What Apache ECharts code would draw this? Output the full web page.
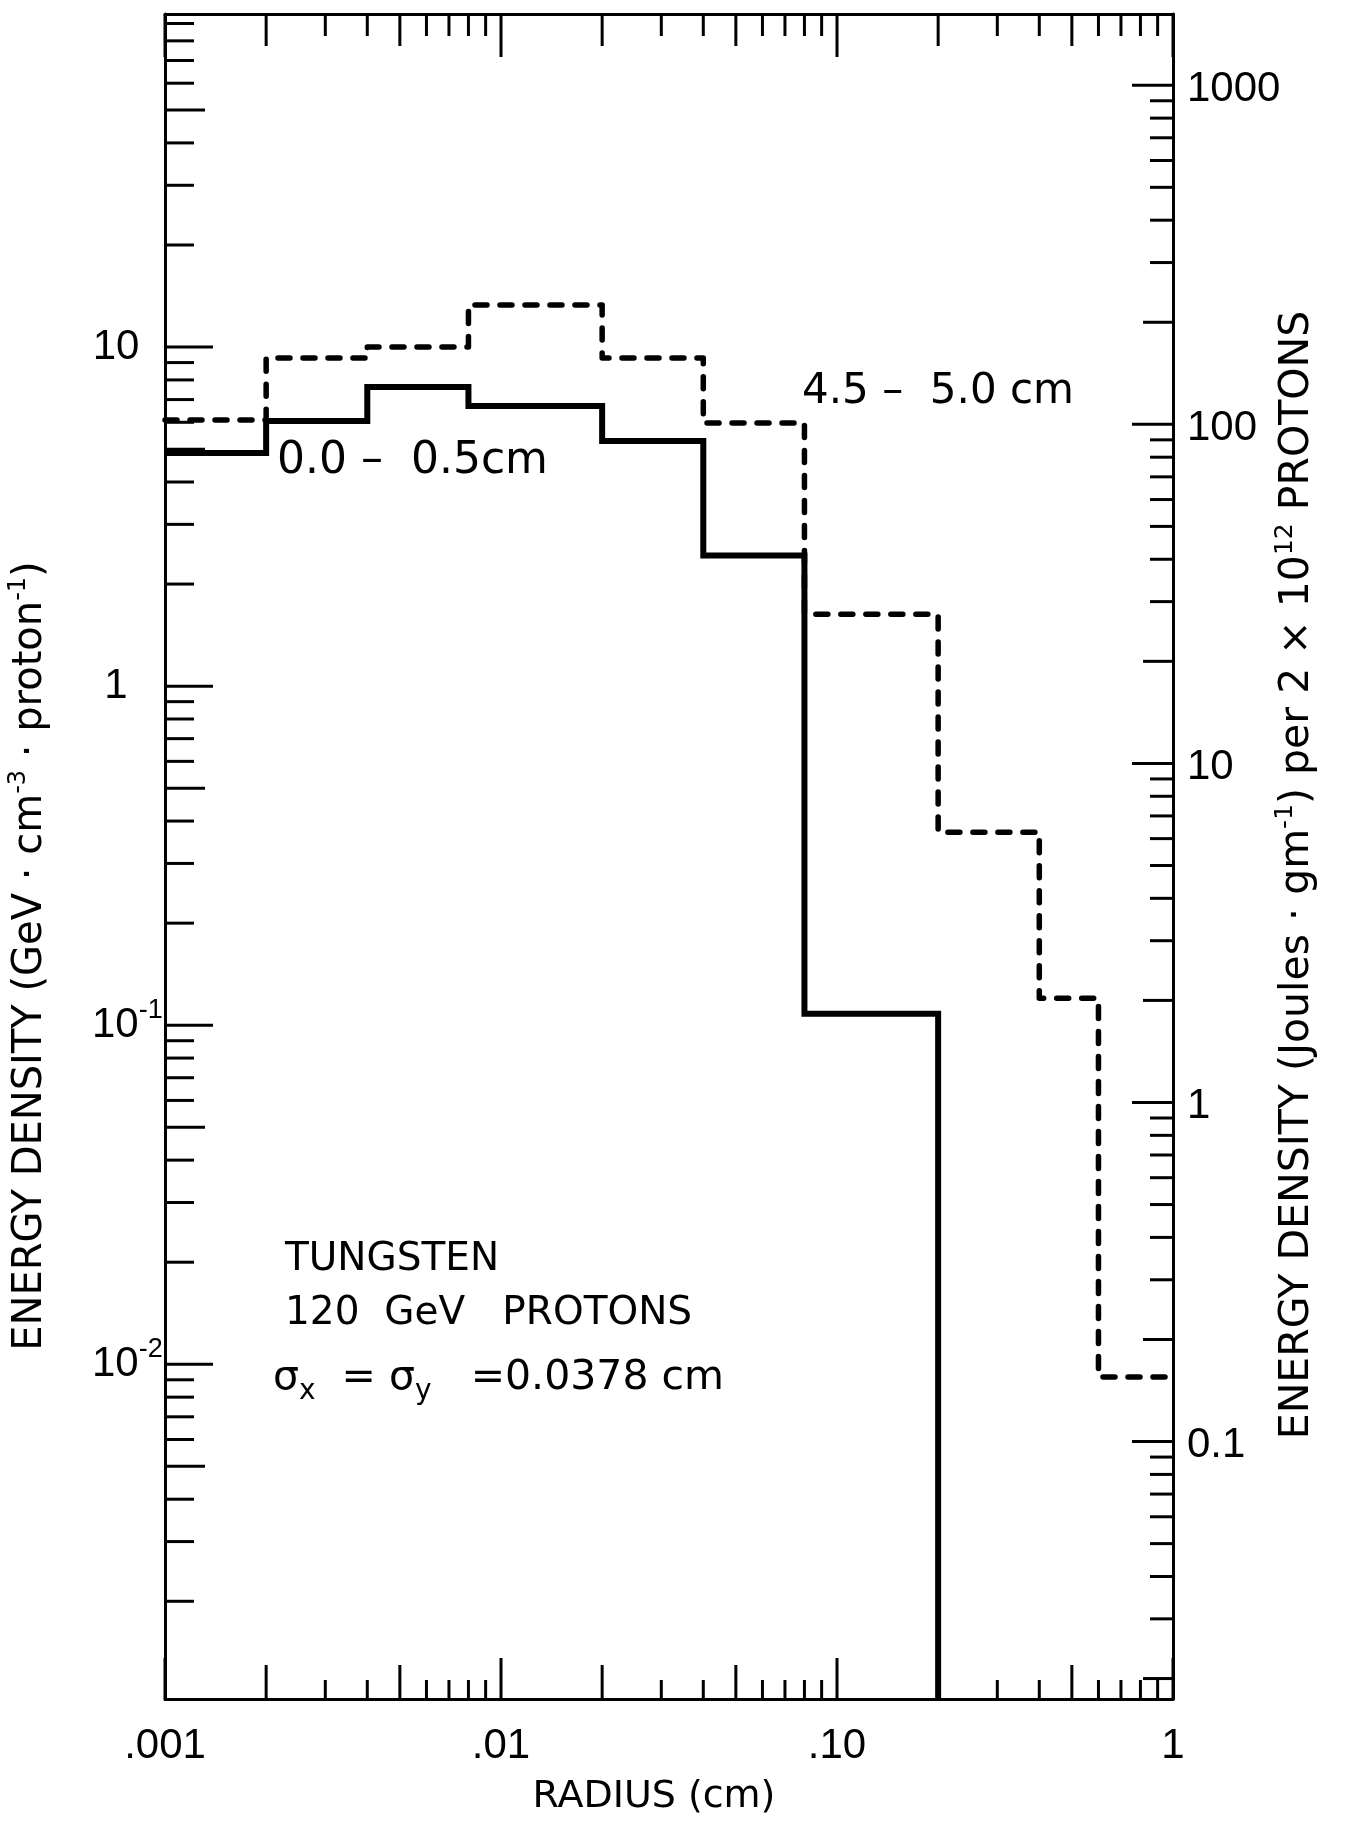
<!DOCTYPE html>
<html>
<head>
<meta charset="utf-8">
<script src="https://cdn.jsdelivr.net/npm/echarts@6/dist/echarts.min.js"></script>
<style>
  html, body { margin: 0; padding: 0; background: #fff; }
  #chart { width: 1345px; height: 1823px; }
</style>
</head>
<body>
<div id="chart"></div>
<script>
// Radial bin edges (cm)
const radiusEdges = [0.001, 0.002, 0.004, 0.008, 0.02, 0.04, 0.08, 0.2, 0.4, 0.6, 1.0];
// Energy density per bin, GeV·cm^-3 per proton
const depth0to05 = [4.87, 6.05, 7.62, 6.70, 5.28, 2.43, 0.108];
const depth45to50 = [6.09, 9.28, 10.0, 13.3, 9.28, 5.97, 1.63, 0.371, 0.120, 0.00917];
const seriesNames = ['0.0 – 0.5cm', '4.5 – 5.0 cm'];

// Axis ranges
const xRange = [0.001, 1];
const yLeftRange = [1.03e-3, 96];
const joulesPerGramFactor = 16.9; // GeV/cm3 per proton -> J/g per 2e12 protons (tungsten)
const yRightRange = yLeftRange.map(v => v * joulesPerGramFactor);

// Tick labels
const xLabelValues = [0.001, 0.01, 0.1, 1];
const xLabelTexts = ['.001', '.01', '.10', '1'];
const yLeftLabelValues = [10, 1, 0.1, 0.01];
const yLeftLabelTexts = ['10', '1', '10{sup|-1}', '10{sup|-2}'];
const yRightLabelValues = [1000, 100, 10, 1, 0.1];
const yRightLabelTexts = ['1000', '100', '10', '1', '0.1'];

// Axis titles and notes
const xTitle = 'RADIUS (cm)';
const yLeftTitle = 'ENERGY DENSITY (GeV · cm{sup|-3} · proton{sup|-1})';
const yRightTitle = 'ENERGY DENSITY (Joules · gm{sup|-1}) per 2 × 10{sup|12} PROTONS';
const noteLines = ['TUNGSTEN', '120  GeV   PROTONS', '{b|σ}{s|x}{b|  = σ}{s|y}{b|   =0.0378 cm}'];

const TICK_FONT = '"Liberation Sans", Arial, sans-serif';
const TEXT_FONT = '"DejaVu Sans", sans-serif';
const INK = '#000';

// Histogram outline: one point per bin start, plus the closing edge
function stepPath(edges, values, dropTo) {
  const pts = values.map((v, i) => [edges[i], v]);
  pts.push([edges[values.length], values[values.length - 1]]);
  if (dropTo !== undefined) pts.push([edges[values.length], dropTo]);
  return pts;
}

// Log-paper ticks: 1..9 in every decade within [lo, hi]
function logTicks(lo, hi) {
  const out = [];
  for (let e = Math.floor(Math.log10(lo)); e <= Math.ceil(Math.log10(hi)); e++) {
    for (let m = 1; m <= 9; m++) {
      const v = m * Math.pow(10, e);
      if (v >= lo * 0.9999 && v <= hi * 1.0001) out.push([v, m]);
    }
  }
  return out;
}

const xTicks = logTicks(xRange[0], xRange[1]);
const yLeftTicks = logTicks(yLeftRange[0], yLeftRange[1]);
const yRightTicks = logTicks(yRightRange[0], yRightRange[1]);

function xLabelFor(v) {
  for (let i = 0; i < xLabelValues.length; i++) {
    if (Math.abs(Math.log10(v) - Math.log10(xLabelValues[i])) < 1e-6) return xLabelTexts[i];
  }
  return '';
}

const tickLine = (x1, y1, x2, y2) => ({
  type: 'line', shape: { x1, y1, x2, y2 }, style: { stroke: INK, lineWidth: 3 }
});

const axisLine = { show: true, onZero: false, lineStyle: { color: INK, width: 3 } };
const supStyle = (size, font) => ({ fontSize: size, lineHeight: size, verticalAlign: 'top', fontFamily: font });

const chart = echarts.init(document.getElementById('chart'), null, { renderer: 'canvas' });

chart.setOption({
  backgroundColor: '#fff',
  animation: false,
  grid: { left: 165, right: 172, top: 14, bottom: 124, outerBoundsMode: 'none' },
  xAxis: [
    {
      type: 'log', logBase: 10, min: xRange[0], max: xRange[1], position: 'bottom',
      axisLine, axisTick: { show: false }, minorTick: { show: false }, splitLine: { show: false },
      axisLabel: { margin: 26, color: INK, fontFamily: TICK_FONT, fontSize: 42, formatter: xLabelFor }
    },
    {
      type: 'log', logBase: 10, min: xRange[0], max: xRange[1], position: 'top',
      axisLine, axisTick: { show: false }, axisLabel: { show: false }, splitLine: { show: false }
    }
  ],
  yAxis: [
    {
      type: 'log', logBase: 10, min: yLeftRange[0], max: yLeftRange[1], position: 'left',
      axisLine, axisTick: { show: false }, axisLabel: { show: false }, splitLine: { show: false }
    },
    {
      type: 'log', logBase: 10, min: yRightRange[0], max: yRightRange[1], position: 'right',
      axisLine, axisTick: { show: false }, axisLabel: { show: false }, splitLine: { show: false }
    }
  ],
  series: [
    {
      name: seriesNames[0], type: 'line', step: 'end', showSymbol: false, silent: true,
      xAxisIndex: 0, yAxisIndex: 0, z: 3,
      data: stepPath(radiusEdges, depth0to05, yLeftRange[0]),
      lineStyle: { color: INK, width: 6, join: 'miter', cap: 'butt' }
    },
    {
      name: seriesNames[1], type: 'line', step: 'end', showSymbol: false, silent: true,
      xAxisIndex: 0, yAxisIndex: 0, z: 3,
      data: stepPath(radiusEdges, depth45to50),
      lineStyle: { color: INK, width: 5.5, type: [12, 13], cap: 'round', join: 'round' }
    },
    {
      // radius ticks, bottom and top edges
      type: 'custom', xAxisIndex: 0, yAxisIndex: 0, silent: true, z: 4,
      data: xTicks.map(([v, m]) => [v, yLeftRange[0], m]),
      renderItem(params, api) {
        const cs = params.coordSys;
        const x = api.coord([api.value(0), yLeftRange[0]])[0];
        const m = api.value(2);
        const lb = m === 1 ? 41 : (m === 2 || m === 5) ? 34 : 19;
        const lt = m === 1 ? 43 : (m === 2 || m === 5) ? 32 : 22;
        const bottom = cs.y + cs.height, top = cs.y;
        return { type: 'group', children: [
          tickLine(x, bottom, x, bottom - lb),
          tickLine(x, top, x, top + lt)
        ] };
      }
    },
    {
      // left energy-density ticks
      type: 'custom', xAxisIndex: 0, yAxisIndex: 0, silent: true, z: 4,
      data: yLeftTicks.map(([v, m]) => [xRange[0], v, m]),
      renderItem(params, api) {
        const cs = params.coordSys;
        const y = api.coord([xRange[0], api.value(1)])[1];
        const m = api.value(2);
        const len = m === 1 ? 48 : m === 5 ? 40 : 29;
        return tickLine(cs.x, y, cs.x + len, y);
      }
    },
    {
      // right energy-density ticks (J/g scale)
      type: 'custom', xAxisIndex: 0, yAxisIndex: 1, silent: true, z: 4,
      data: yRightTicks.map(([v, m]) => [xRange[0], v, m]),
      renderItem(params, api) {
        const cs = params.coordSys;
        const y = api.coord([xRange[0], api.value(1)])[1];
        const m = api.value(2);
        const len = m === 1 ? 41 : m === 2 ? 30 : 23;
        const xr = cs.x + cs.width;
        return tickLine(xr, y, xr - len, y);
      }
    },
    {
      // left tick labels
      type: 'custom', xAxisIndex: 0, yAxisIndex: 0, silent: true, z: 4,
      data: yLeftLabelValues.map(v => [xRange[0], v]),
      renderItem(params, api) {
        const cs = params.coordSys;
        const y = api.coord([xRange[0], api.value(1)])[1];
        const text = yLeftLabelTexts[params.dataIndex];
        const hasSup = text.indexOf('{') >= 0;
        return {
          type: 'text', x: hasSup ? cs.x - 73 : cs.x - 49, y,
          style: {
            text, fill: INK,
            fontFamily: TICK_FONT, fontSize: 42, lineHeight: 56,
            align: hasSup ? 'left' : 'center', verticalAlign: 'middle',
            rich: { sup: supStyle(27, TICK_FONT) }
          }
        };
      }
    },
    {
      // right tick labels
      type: 'custom', xAxisIndex: 0, yAxisIndex: 1, silent: true, z: 4,
      data: yRightLabelValues.map(v => [xRange[0], v]),
      renderItem(params, api) {
        const cs = params.coordSys;
        const y = api.coord([xRange[0], api.value(1)])[1];
        return {
          type: 'text', x: cs.x + cs.width + 14, y: y + 4,
          style: {
            text: yRightLabelTexts[params.dataIndex], fill: INK,
            fontFamily: TICK_FONT, fontSize: 42, align: 'left', verticalAlign: 'middle'
          }
        };
      }
    }
  ],
  graphic: [
    {
      type: 'text', x: 31, y: 956, rotation: Math.PI / 2, silent: true,
      style: {
        text: yLeftTitle, fill: INK, fontFamily: TEXT_FONT, fontSize: 40, lineHeight: 48,
        align: 'center', verticalAlign: 'middle', rich: { sup: supStyle(24, TEXT_FONT) }
      }
    },
    {
      type: 'text', x: 1297, y: 875, rotation: Math.PI / 2, silent: true,
      style: {
        text: yRightTitle, fill: INK, fontFamily: TEXT_FONT, fontSize: 41, lineHeight: 49,
        align: 'center', verticalAlign: 'middle', rich: { sup: supStyle(25, TEXT_FONT) }
      }
    },
    {
      type: 'text', x: 654, y: 1797, silent: true,
      style: { text: xTitle, fill: INK, fontFamily: TEXT_FONT, fontSize: 38, align: 'center', verticalAlign: 'middle' }
    },
    {
      type: 'text', x: 277, y: 462, silent: true,
      style: { text: seriesNames[0].replace('– ', '–  '), fill: INK, fontFamily: TEXT_FONT, fontSize: 44, verticalAlign: 'middle' }
    },
    {
      type: 'text', x: 802, y: 392, silent: true,
      style: { text: seriesNames[1].replace('– ', '–  '), fill: INK, fontFamily: TEXT_FONT, fontSize: 42, verticalAlign: 'middle' }
    },
    {
      type: 'text', x: 285, y: 1260, silent: true,
      style: { text: noteLines[0], fill: INK, fontFamily: TEXT_FONT, fontSize: 39, verticalAlign: 'middle' }
    },
    {
      type: 'text', x: 285, y: 1314, silent: true,
      style: { text: noteLines[1], fill: INK, fontFamily: TEXT_FONT, fontSize: 39, verticalAlign: 'middle' }
    },
    {
      type: 'text', x: 273, y: 1358, silent: true,
      style: {
        text: noteLines[2], fill: INK, verticalAlign: 'top',
        rich: {
          b: { fontFamily: TEXT_FONT, fontSize: 41, lineHeight: 44, verticalAlign: 'top' },
          s: { fontFamily: TEXT_FONT, fontSize: 28, lineHeight: 48, verticalAlign: 'bottom' }
        }
      }
    }
  ]
});
</script>
</body>
</html>
